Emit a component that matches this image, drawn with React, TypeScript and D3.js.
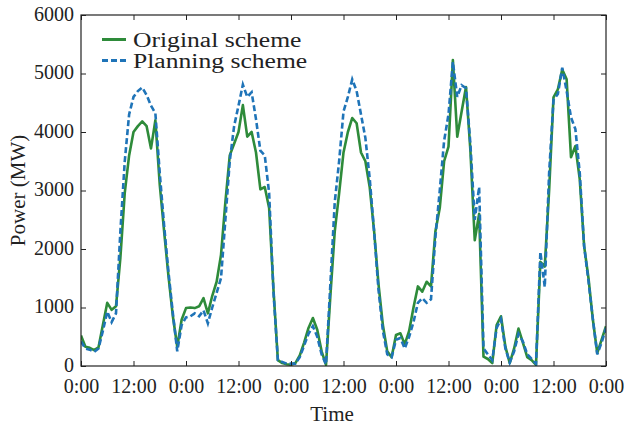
import React, { useEffect, useRef } from 'react';
import * as d3 from 'd3';

// hourly power, 5 days (0..120 h)
const hours = d3.range(0, 121);

const originalScheme = [
  520, 330, 310, 270, 320, 700, 1080, 960, 1020, 1850, 2960, 3600, 4000, 4100, 4180, 4100, 3720, 4200, 3100, 2300, 1530, 850, 330, 790,
  990, 1000, 990, 1020, 1160, 900, 1200, 1440, 1900, 2800, 3600, 3800, 4000, 4460, 3920, 4000, 3650, 3020, 3060, 2700, 1300, 100, 50, 30,
  20, 50, 180, 400, 650, 820, 620, 250, 20, 1200, 2300, 2950, 3650, 4000, 4240, 4150, 3650, 3500, 3050, 2300, 1400, 700, 250, 150,
  530, 560, 370, 600, 1000, 1360, 1270, 1440, 1360, 2300, 2700, 3500, 3750, 5230, 3920, 4350, 4770, 3690, 2150, 2600, 160, 120, 50, 700,
  850, 330, 50, 300, 640, 400, 150, 100, 20, 1780, 1700, 3000, 4590, 4730, 5070, 4900, 3570, 3760, 3190, 2050, 1500, 790, 220, 450,
  680,
];

const planningScheme = [
  420, 300, 280, 240, 300, 600, 930, 750, 900, 2300, 3500, 4300, 4600, 4700, 4760, 4630, 4450, 4320, 3300, 2400, 1600, 900, 250, 700,
  830, 850, 900, 850, 950, 730, 1000, 1250, 1500, 2500, 3500, 4100, 4450, 4810, 4600, 4680, 4220, 3680, 3600, 2960, 1260, 100, 70, 40,
  40, 40, 150, 350, 550, 680, 500, 200, 30, 1400, 2800, 3500, 4350, 4600, 4900, 4700, 4300, 3900, 3200, 2300, 1300, 600, 200, 150,
  450, 480, 300, 500, 750, 1080, 1160, 1080, 1140, 2200, 3000, 3850, 4300, 5200, 4600, 4800, 4750, 3800, 2500, 3060, 300, 200, 100, 650,
  800, 300, 60, 250, 550, 420, 200, 120, 40, 1950, 1350, 3300, 4550, 4650, 5100, 4700, 4250, 4050, 3300, 2050, 1450, 800, 200, 400,
  650,
];

const yTicks = [0, 1000, 2000, 3000, 4000, 5000, 6000];
const xTicks = d3.range(0, 121, 12);
const xTickLabel = (h: number) => (h % 24 === 0 ? '0:00' : '12:00');

const GREEN = '#2e8b3a';
const BLUE = '#1f74b8';
const FONT = '"Liberation Serif", "Times New Roman", serif';

const App = () => {
  const ref = useRef<SVGSVGElement>(null);

  useEffect(() => {
    const svg = d3.select(ref.current);
    svg.selectAll('*').remove();

    const margin = { top: 15, right: 18, bottom: 60, left: 81 };
    const W = 624, H = 426;
    const width = W - margin.left - margin.right;
    const height = H - margin.top - margin.bottom;

    const g = svg.append('g').attr('transform', `translate(${margin.left},${margin.top})`);

    const x = d3.scaleLinear().domain([0, 120]).range([0, width]);
    const y = d3.scaleLinear().domain([0, 6000]).range([height, 0]);

    const line = d3.line<number>()
      .x((_, i) => x(hours[i]))
      .y(d => y(d));

    // clip to plot area
    svg.append('defs').append('clipPath').attr('id', 'plot-clip')
      .append('rect').attr('width', width).attr('height', height);

    const plot = g.append('g').attr('clip-path', 'url(#plot-clip)');

    plot.append('path')
      .datum(originalScheme)
      .attr('fill', 'none')
      .attr('stroke', GREEN)
      .attr('stroke-width', 2.6)
      .attr('stroke-linejoin', 'round')
      .attr('d', line);

    plot.append('path')
      .datum(planningScheme)
      .attr('fill', 'none')
      .attr('stroke', BLUE)
      .attr('stroke-width', 2.6)
      .attr('stroke-dasharray', '6,3')
      .attr('d', line);

    // axes, ticks pointing inward on all four sides
    const styleAxis = (sel: any, labels: boolean) => {
      sel.select('.domain').remove();
      sel.selectAll('line').attr('stroke', '#222');
      sel.selectAll('text')
        .style('font-family', FONT)
        .style('font-size', '20px')
        .style('fill', '#222')
        .style('display', labels ? null : 'none');
    };

    g.append('g')
      .attr('transform', `translate(0,${height})`)
      .call(d3.axisBottom(x).tickValues(xTicks).tickFormat(d => xTickLabel(+d)).tickSizeInner(-5).tickSizeOuter(0).tickPadding(13))
      .call(s => styleAxis(s, true));

    g.append('g')
      .call(d3.axisTop(x).tickValues(xTicks).tickSizeInner(-5).tickSizeOuter(0))
      .call(s => styleAxis(s, false));

    g.append('g')
      .call(d3.axisLeft(y).tickValues(yTicks).tickFormat(d3.format('d')).tickSizeInner(-5).tickSizeOuter(0).tickPadding(7))
      .call(s => styleAxis(s, true))
      .call(s => s.selectAll('text').attr('dy', '0.25em'));

    g.append('g')
      .attr('transform', `translate(${width},0)`)
      .call(d3.axisRight(y).tickValues(yTicks).tickSizeInner(-5).tickSizeOuter(0))
      .call(s => styleAxis(s, false));

    g.append('rect')
      .attr('width', width)
      .attr('height', height)
      .attr('fill', 'none')
      .attr('stroke', '#222')
      .attr('stroke-width', 1.2);

    // axis titles
    svg.append('text')
      .attr('x', 332)
      .attr('y', 421)
      .attr('text-anchor', 'middle')
      .style('font-family', FONT)
      .style('font-size', '21px')
      .style('fill', '#222')
      .text('Time');

    svg.append('text')
      .attr('transform', `translate(25,${margin.top + height / 2}) rotate(-90)`)
      .attr('text-anchor', 'middle')
      .style('font-family', FONT)
      .style('font-size', '21px')
      .style('fill', '#222')
      .text('Power (MW)');

    // legend
    const legend = svg.append('g').attr('transform', 'translate(102,39.5)');
    const items = [
      { label: 'Original scheme', color: GREEN, dash: null },
      { label: 'Planning scheme', color: BLUE, dash: '6,3' },
    ];
    items.forEach((it, i) => {
      legend.append('line')
        .attr('x1', 0).attr('x2', 24)
        .attr('y1', i * 21).attr('y2', i * 21)
        .attr('stroke', it.color)
        .attr('stroke-width', 3)
        .attr('stroke-dasharray', it.dash);
      legend.append('text')
        .attr('transform', `translate(31,${i * 21 + 7}) scale(1.28,1)`)
        .style('font-family', FONT)
        .style('font-size', '20px')
        .style('fill', '#222')
        .text(it.label);
    });
  }, []);

  return (
    <svg
      ref={ref}
      width={624}
      height={426}
      style={{ position: 'absolute', left: 0, top: 0, background: '#fff' }}
    />
  );
};

export default App;
